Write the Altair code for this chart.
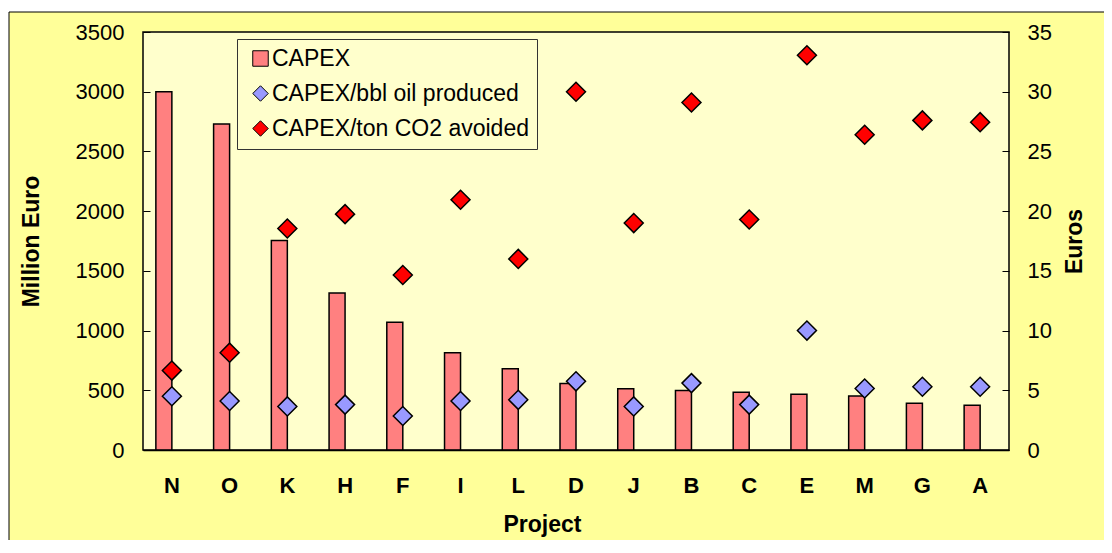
import altair as alt
import pandas as pd

projects = ["N", "O", "K", "H", "F", "I", "L", "D", "J", "B", "C", "E", "M", "G", "A"]
capex = [3000, 2730, 1755, 1315, 1070, 815, 680, 557, 512, 498, 483, 466, 452, 391, 375]
capex_per_bbl = [4.5, 4.1, 3.65, 3.8, 2.85, 4.1, 4.2, 5.75, 3.65, 5.6, 3.8, 10.0, 5.15, 5.3, 5.3]
capex_per_ton = [6.65, 8.15, 18.55, 19.75, 14.65, 20.95, 16.0, 30.0, 19.0, 29.1, 19.3, 33.05, 26.4, 27.6, 27.45]

series_names = ["CAPEX", "CAPEX/bbl oil produced", "CAPEX/ton CO2 avoided"]
series_colors = ["#FF8080", "#9999FF", "#FF0000"]
series_shapes = ["square", "diamond", "diamond"]
left_ticks = [0, 500, 1000, 1500, 2000, 2500, 3000, 3500]
right_ticks = [0, 5, 10, 15, 20, 25, 30, 35]

FONT = "Liberation Sans"
W, H = 866, 418

bar_df = pd.DataFrame({"project": projects, "capex": capex})
pts_df = pd.concat([
    pd.DataFrame({"project": projects, "euros": capex_per_bbl, "series": series_names[1]}),
    pd.DataFrame({"project": projects, "euros": capex_per_ton, "series": series_names[2]}),
])
one = pd.DataFrame({"a": [0]})

x_enc = alt.X(
    "project:N", sort=projects,
    scale=alt.Scale(paddingInner=0, paddingOuter=0),
    axis=alt.Axis(
        title="Project", labelAngle=0, labelFont=FONT, labelFontSize=22, labelFontWeight="bold",
        labelColor="black", labelBaseline="alphabetic", labelPadding=42,
        ticks=False, tickSize=0, domain=True, domainColor="black", domainWidth=1.5,
        titleFont=FONT, titleFontSize=23, titleFontWeight="bold", titleColor="black",
        titleX=399, titleY=81, titleAlign="center", titleBaseline="alphabetic", zindex=2,
    ),
)

outer = alt.Chart(one).mark_rect(fill="#FFFF99", stroke="black", strokeWidth=1).encode(
    x=alt.value(-134), x2=alt.value(1000), y=alt.value(-20), y2=alt.value(600)
)
plotbg = alt.Chart(one).mark_rect(fill="#FFFFCC", stroke="black", strokeWidth=1.5).encode(
    x=alt.value(0), x2=alt.value(W), y=alt.value(0), y2=alt.value(H)
)

bars = alt.Chart(bar_df).mark_bar(
    width=16, xOffset=-8, color="#FF8080", stroke="black", strokeWidth=1.5
).encode(
    x=x_enc,
    y=alt.Y(
        "capex:Q",
        scale=alt.Scale(domain=[0, 3500], nice=False),
        axis=alt.Axis(
            orient="left", values=left_ticks, format="d", title="Million Euro", grid=False,
            domain=False, offset=-7, tickSize=7, tickColor="black", tickWidth=1,
            labelFont=FONT, labelFontSize=22, labelColor="black", labelPadding=19,
            titleFont=FONT, titleFontSize=23, titleFontWeight="bold", titleColor="black",
            titleAngle=270, titleX=-119, titleY=209, titleAlign="center", titleBaseline="middle",
            zindex=2,
        ),
    ),
)

legend_kw = dict(
    orient="none", legendX=94, legendY=7, title=None, direction="vertical",
    labelFont=FONT, labelFontSize=23, labelColor="black", labelOffset=0, labelLimit=500,
    symbolSize=240, symbolStrokeColor="black", symbolStrokeWidth=1, symbolOffset=4,
    fillColor="#FFFFCC", strokeColor="#333333", padding=8, rowPadding=11,
)

points = alt.Chart(pts_df).mark_point(
    filled=True, size=361, stroke="black", strokeWidth=1.5, opacity=1
).encode(
    x=x_enc,
    y=alt.Y(
        "euros:Q",
        scale=alt.Scale(domain=[0, 35], nice=False),
        axis=alt.Axis(
            orient="right", values=right_ticks, format="d", title="Euros", grid=False,
            domain=False, offset=-7, tickSize=7, tickColor="black", tickWidth=1,
            labelFont=FONT, labelFontSize=22, labelColor="black", labelPadding=18,
            titleFont=FONT, titleFontSize=23, titleFontWeight="bold", titleColor="black",
            titleAngle=270, titleX=72, titleY=209, titleAlign="center", titleBaseline="middle",
            zindex=2,
        ),
    ),
    color=alt.Color(
        "series:N",
        scale=alt.Scale(domain=series_names, range=series_colors),
        legend=alt.Legend(**legend_kw),
    ),
    shape=alt.Shape(
        "series:N",
        scale=alt.Scale(domain=series_names, range=series_shapes),
        legend=alt.Legend(**legend_kw),
    ),
)

chart = alt.layer(outer, plotbg, bars, points).resolve_scale(y="independent").properties(
    width=W, height=H,
    autosize=alt.AutoSizeParams(type="none"),
    padding={"left": 135, "top": 24, "right": 95, "bottom": 90},
    background="white",
).configure_view(stroke=None)

chart.save("out.html", embed_options={"renderer": "svg", "actions": False})
